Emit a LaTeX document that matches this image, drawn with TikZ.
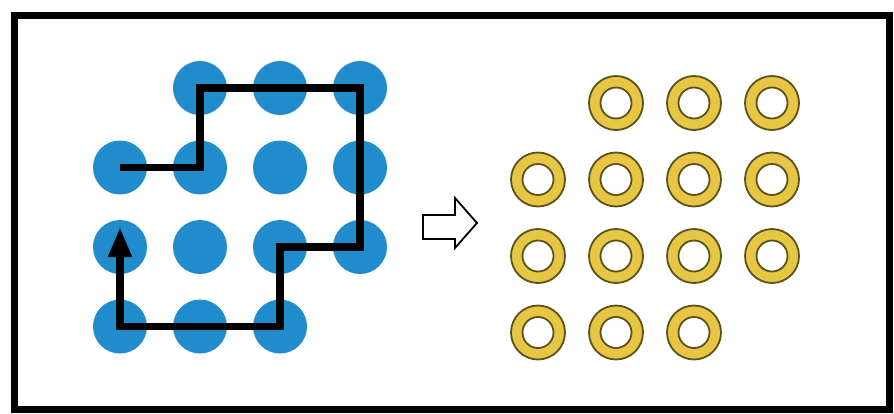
\documentclass[tikz,border=0pt]{standalone}
\usepackage{tikz}
\usetikzlibrary{arrows.meta}

\definecolor{dotblue}{RGB}{33,140,204}
\definecolor{ringfill}{RGB}{230,198,66}
\definecolor{ringedge}{RGB}{92,82,30}

\begin{document}
\begin{tikzpicture}[x=1pt,y=-1pt,
    dot/.style={circle,fill=dotblue,minimum size=54pt,inner sep=0pt},
    ring/.style={circle,draw=ringedge,line width=1.8pt,fill=ringfill,minimum size=54pt,inner sep=0pt},
    hole/.style={circle,draw=ringedge,line width=1.8pt,fill=white,minimum size=31pt,inner sep=0pt},
    >=Triangle]
  \useasboundingbox (0,0) rectangle (894,413);
  \draw[line width=7pt,fill=white] (14,15) rectangle (889,409);
  % blue sites, row/column
  \foreach \r/\c in {0/1,0/2,0/3,1/0,1/1,1/2,1/3,2/0,2/1,2/2,2/3,3/0,3/1,3/2}
    \node[dot] (b\r\c) at (120+80*\c,88+79.5*\r) {};
  % the walk through the sites
  \draw[->,line width=7.5pt,line join=miter,
        arrows={-Triangle[length=30pt,width=22pt]}]
    (b10.center) -- (b11.center) -- (b01.center) -- (b03.center)
    -- (b23.center) -- (b22.center) -- (b32.center) -- (b30.center)
    -- ([yshift=20pt]b20.center);
  % conversion arrow
  \draw[line width=1.8pt,line join=miter,fill=white]
    (423,215) -- (455,215) -- (455,198) -- (477,223) -- (455,248)
    -- (455,239) -- (423,239) -- cycle;
  % yellow rings
  \foreach \r/\c in {0/1,0/2,0/3,1/0,1/1,1/2,1/3,2/0,2/1,2/2,2/3,3/0,3/1,3/2} {
    \node[ring] (r\r\c) at (538+78*\c,103+76.5*\r) {};
    \node[hole] (h\r\c) at (r\r\c) {};
  }
\end{tikzpicture}
\end{document}
